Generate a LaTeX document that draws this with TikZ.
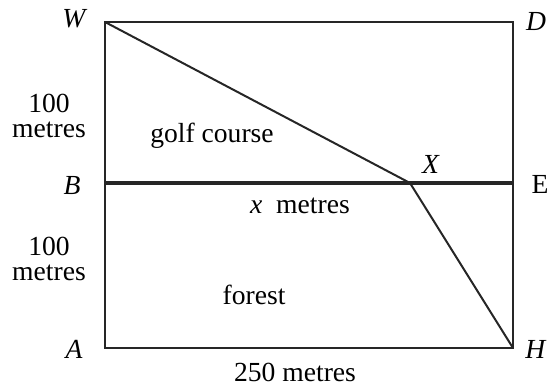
\documentclass[tikz,border=0pt]{standalone}
\usepackage{fontspec}
\setmainfont{Liberation Serif}
\begin{document}
\begin{tikzpicture}[x=0.5pt,y=-0.5pt,
    lbl/.style={inner sep=0pt,font=\fontsize{13.8}{12.5}\selectfont},
    side/.style={lbl,align=center},
    edge/.style={line width=1pt,black!85},
    thick edge/.style={line width=2pt,black!85}]
    \useasboundingbox (0,0) rectangle (549,385);

    % Vertici principali
    \coordinate (W) at (105,22);
    \coordinate (D) at (513,22);
    \coordinate (B) at (105,183);
    \coordinate (E) at (513,183);
    \coordinate (A) at (105,348);
    \coordinate (H) at (513,348);
    \coordinate (X) at (410,183);

    % Etichette dei vertici
    \node[lbl] (lW) at (75,19) {\textit{W}};
    \node[lbl] (lD) at (536,21) {\textit{D}};
    \node[lbl] (lB) at (72,186) {\textit{B}};
    \node[lbl] (lE) at (540,184) {E};
    \node[lbl] (lA) at (74,349) {\textit{A}};
    \node[lbl] (lH) at (536,349) {\textit{H}};
    \node[lbl] (lX) at (431,164) {\textit{X}};

    % Testi
    \node[side] (up) at (49,116) {100\\metres};
    \node[side] (down) at (49,259) {100\\metres};
    \node[lbl] (golf) at (212,136) {golf course};
    \node[lbl] (xm) at (300,206) {\textit{x}\enspace metres};
    \node[lbl] (forest) at (254,295) {forest};
    \node[lbl] (base) at (295,372) {250 metres};

    % Diagramma
    \draw[edge] (W) -- (D) -- (H) -- (A) -- cycle;
    \draw[thick edge] (B) -- (E);
    \draw[edge] (W) -- (X) -- (H);
\end{tikzpicture}
\end{document}
